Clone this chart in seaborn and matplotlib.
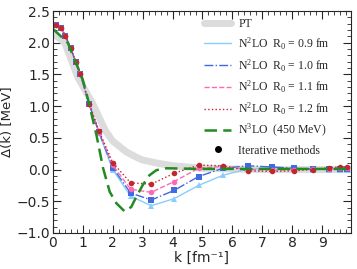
'''
    plot.py
    Delta(k) gap for PT, N2LO (several R0), N3LO and iterative methods.
'''

import pandas as pd
import seaborn as sns
import matplotlib.pyplot as plt
from matplotlib.lines import Line2D
from matplotlib.ticker import MultipleLocator

# momentum grid of the iterative results
k_iter = [0.1, 0.27, 0.42, 0.6, 0.77, 0.92, 1.21, 1.54, 2.0, 2.6, 3.29, 4.05,
          4.87, 5.68, 6.53, 7.34, 8.07, 8.68, 9.23, 9.59, 9.82]
gap_r09 = [2.28, 2.23, 2.11, 1.91, 1.69, 1.50, 1.03, 0.58, 0.00, -0.42, -0.57, -0.46,
           -0.25, -0.09, 0.01, 0.02, 0.01, 0.00, 0.00, 0.00, 0.00]
gap_r10 = [2.28, 2.23, 2.11, 1.91, 1.69, 1.51, 1.04, 0.59, 0.03, -0.37, -0.48, -0.33,
           -0.11, 0.02, 0.06, 0.04, 0.02, 0.01, 0.01, 0.01, 0.01]
gap_r11 = [2.28, 2.23, 2.11, 1.91, 1.69, 1.51, 1.04, 0.60, 0.07, -0.31, -0.36, -0.19,
           0.02, 0.05, 0.00, -0.01, 0.00, 0.01, 0.01, 0.02, 0.02]
gap_r12 = [2.28, 2.23, 2.11, 1.91, 1.69, 1.51, 1.04, 0.61, 0.11, -0.21, -0.23, -0.06,
           0.07, 0.06, -0.02, -0.03, -0.02, 0.00, 0.03, 0.04, 0.04]

# perturbation theory band
k_pt = [0.0, 0.4, 0.83, 1.33, 1.75, 2.0, 2.45, 2.85, 3.0, 3.5, 4.0, 4.5, 5.0, 6.0, 7.0, 10.0]
gap_pt = [2.15, 2.0, 1.46, 1.04, 0.62, 0.45, 0.28, 0.18, 0.15, 0.10, 0.06, 0.04, 0.02, 0.01, 0.0, 0.0]

# N3LO (450 MeV)
k_n3lo = [0.0, 0.5, 1.0, 1.2, 1.46, 1.68, 1.9, 2.12, 2.4, 2.62, 2.79, 3.01, 3.23,
          3.46, 3.79, 5.0, 7.0, 10.0]
gap_n3lo = [2.22, 2.0, 1.42, 1.06, 0.54, 0.02, -0.35, -0.53, -0.66, -0.59, -0.43,
            -0.24, -0.09, -0.01, 0.02, 0.01, 0.01, 0.01]

series = [
    (gap_r09, 'N$^2$LO  R$_0$ = 0.9 fm', '#87cefa', '-', '^'),
    (gap_r10, 'N$^2$LO  R$_0$ = 1.0 fm', '#4169e1', '-.', 's'),
    (gap_r11, 'N$^2$LO  R$_0$ = 1.1 fm', '#ff69b4', '--', 'o'),
    (gap_r12, 'N$^2$LO  R$_0$ = 1.2 fm', '#c0282e', ':', 'o'),
]


def main():
    sns.set_style('ticks')
    plt.rcParams['font.family'] = ['DejaVu Sans']
    plt.rcParams['mathtext.fontset'] = 'custom'
    plt.rcParams['mathtext.rm'] = 'Liberation Serif'
    plt.rcParams['mathtext.it'] = 'Liberation Serif:italic'

    fig = plt.figure(figsize=(3.57, 2.69), dpi=100)
    ax = fig.add_axes([0.148, 0.134, 0.834, 0.825])

    sns.lineplot(x=k_pt, y=gap_pt, color='#dcdcdc', lw=5, ax=ax)
    handles = [Line2D([], [], color='#dcdcdc', lw=5)]
    labels = ['PT']
    for gap, label, color, ls, mk in series:
        sns.lineplot(x=k_iter, y=gap, color=color, lw=1.0, ls=ls, marker=mk,
                     markersize=4, markeredgewidth=0, ax=ax)
        handles.append(Line2D([], [], color=color, lw=1.0, ls=ls))
        labels.append(label)
    sns.lineplot(x=k_n3lo, y=gap_n3lo, color='#228b22', lw=1.8, ls=(0, (5, 2.5)), ax=ax)
    handles.append(Line2D([], [], color='#228b22', lw=1.8, ls=(0, (5, 2.5))))
    labels.append('N$^3$LO  (450 MeV)')
    handles.append(Line2D([], [], color='black', ls='none', marker='o', markersize=4))
    labels.append('Iterative methods')

    ax.legend(handles, labels, loc='upper right', frameon=False,
              prop={'family': 'Liberation Serif', 'size': 8.5},
              handlelength=2.3, handletextpad=0.6, labelspacing=0.45,
              borderaxespad=0.2, bbox_to_anchor=(0.955, 1.0))

    ax.set_xlim(0, 9.95)
    ax.set_ylim(-1.0, 2.5)
    ax.xaxis.set_major_locator(MultipleLocator(1))
    ax.xaxis.set_minor_locator(MultipleLocator(0.2))
    ax.yaxis.set_major_locator(MultipleLocator(0.5))
    ax.yaxis.set_minor_locator(MultipleLocator(0.1))
    ax.set_xticks(range(10))
    ax.tick_params(which='both', direction='in', top=True, right=True, labelsize=10, pad=2)
    ax.tick_params(which='major', length=6)
    ax.tick_params(which='minor', length=3)
    ax.set_xlabel('k [fm⁻¹]', fontsize=10, labelpad=1)
    ax.set_ylabel('Δ(k) [MeV]', fontsize=9.5, labelpad=2)
    fig.savefig('out.png', dpi=100)


if __name__ == '__main__':
    main()
